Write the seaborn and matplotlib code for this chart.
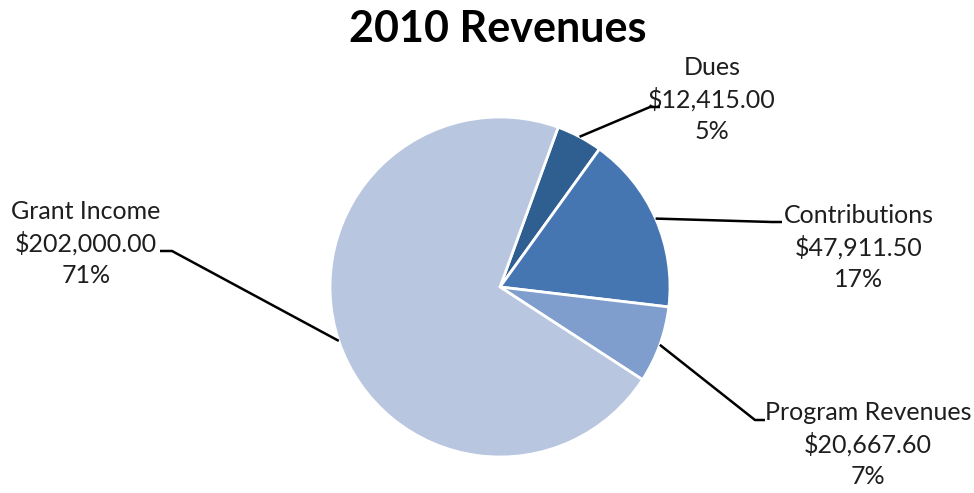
import numpy as np
import matplotlib
matplotlib.use("Agg")
import matplotlib.pyplot as plt
import seaborn as sns

categories = ["Dues", "Contributions", "Program Revenues", "Grant Income"]
values = [12415.00, 47911.50, 20667.60, 202000.00]
value_labels = ["$12,415.00", "$47,911.50", "$20,667.60", "$202,000.00"]
pct_labels = ["5%", "17%", "7%", "71%"]
colors = ["#2F5E90", "#4676B2", "#7F9ECD", "#B8C6DF"]

sns.set_theme(style="white")
plt.rcParams["font.family"] = ["Lato", "DejaVu Sans"]

W, H = 974, 493
fig = plt.figure(figsize=(W / 100, H / 100), dpi=100)
ax = fig.add_axes([0, 0, 1, 1])

cx, cy, r = 500, H - 287, 170
start = 70
wedges, _ = ax.pie(values, colors=colors, startangle=start, counterclock=False,
                   center=(cx, cy), radius=r, frame=True,
                   wedgeprops=dict(edgecolor="white", linewidth=2))
ax.set_xlim(0, W)
ax.set_ylim(0, H)
ax.set_aspect("equal")
ax.axis("off")

# label layout in pixel coords (y from top)
layout = {
    "Dues": dict(elbow=(650, 107), tail=(660, 107), tx=712, ty=56),
    "Contributions": dict(elbow=(772, 222), tail=(782, 222), tx=859, ty=204),
    "Program Revenues": dict(elbow=(755, 420), tail=(765, 420), tx=868, ty=401),
    "Grant Income": dict(elbow=(172, 251), tail=(160, 251), tx=86, ty=200),
}

total = sum(values)
cum = 0
for cat, v, vl, pl in zip(categories, values, value_labels, pct_labels):
    mid = start - 360 * (cum + v / 2) / total
    cum += v
    ax_ = cx + r * np.cos(np.radians(mid))
    ay_ = cy + r * np.sin(np.radians(mid))
    L = layout[cat]
    ex, ey = L["elbow"]
    tx_, ty_ = L["tail"]
    ax.plot([ax_, ex, tx_], [ay_, H - ey, H - ty_], color="black", lw=1.8,
            solid_capstyle="butt", zorder=5)
    ax.text(L["tx"], H - L["ty"], f"{cat}\n{vl}\n{pl}", ha="center", va="top",
            fontsize=18, color="#1E1E1E", linespacing=1.42)

ax.text(498, H - 29, "2010 Revenues", ha="center", va="center",
        fontsize=31, fontweight="bold", color="black")

fig.savefig("out.png", dpi=100, facecolor="white")
